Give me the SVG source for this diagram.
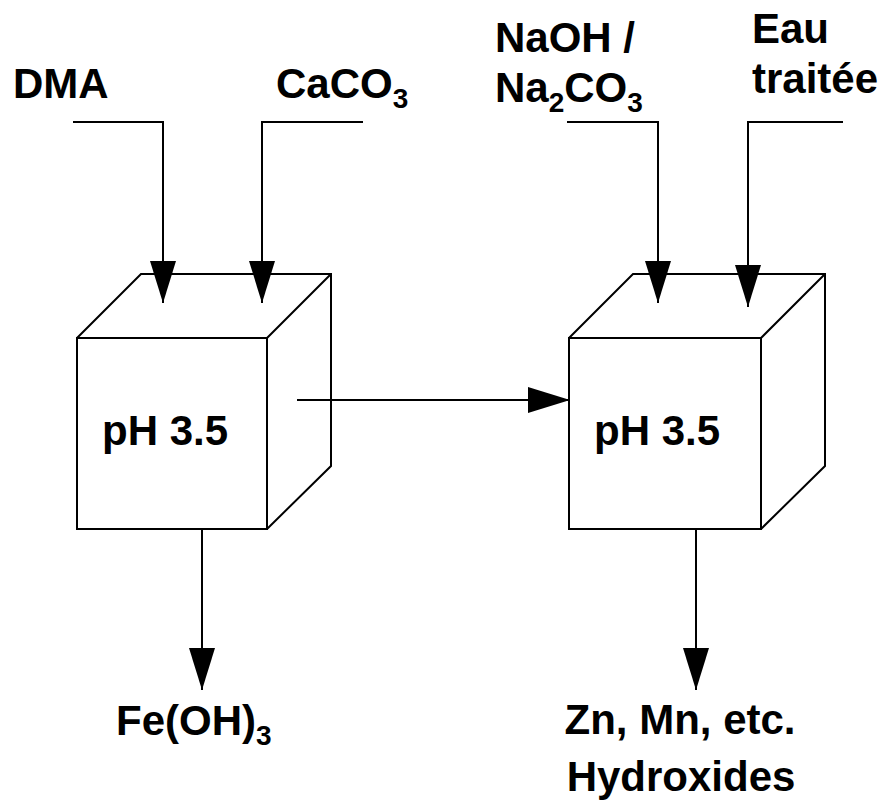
<svg xmlns="http://www.w3.org/2000/svg" width="883" height="803" viewBox="0 0 883 803">
<style>
.ln{fill:none;stroke:#000;stroke-width:2;stroke-linejoin:miter}
.t{font-family:"Liberation Sans",Arial,sans-serif;font-weight:bold;font-size:42px;fill:#000}
.s{font-size:28px}
</style>
<defs>
<marker id="ah" markerUnits="userSpaceOnUse" markerWidth="42" markerHeight="26" refX="42" refY="13" orient="auto">
<path d="M0,0 L42,13 L0,26 Z" fill="#000"/>
</marker>
</defs>
<rect width="883" height="803" fill="#fff"/>
<g id="tank1">
<path class="ln" d="M77,529 V338 H267 V529 H77 Z M77,338 L141,274 H331 V466 L267,529 M267,338 L331,274"/>
<text class="t" x="102" y="445">pH 3.5</text>
</g>
<g id="tank2">
<path class="ln" d="M569,529 V338 H761 V529 H569 Z M569,338 L633,274 H825 V466 L761,529 M761,338 L825,274"/>
<text class="t" x="594" y="445">pH 3.5</text>
</g>
<g id="labels">
<text id="dma" class="t" x="13" y="98">DMA</text>
<text id="caco3" class="t" x="276" y="98">CaCO<tspan class="s" dy="10">3</tspan></text>
<text id="naoh" class="t" x="495" y="52">NaOH /</text>
<text id="na2co3" class="t" x="495" y="102">Na<tspan class="s" dy="10">2</tspan><tspan dy="-10">CO</tspan><tspan class="s" dy="10">3</tspan></text>
<text id="eau" class="t" x="752" y="43">Eau</text>
<text id="traitee" class="t" x="752" y="93">traitée</text>
<text id="feoh3" class="t" x="116" y="735">Fe(OH)<tspan class="s" dy="10">3</tspan></text>
<text id="zn" class="t" x="680" y="734" text-anchor="middle">Zn, Mn, etc.</text>
<text id="hydroxides" class="t" x="681" y="791" text-anchor="middle">Hydroxides</text>
</g>
<g id="connectors">
<path class="ln" d="M73,122 H163 V303" marker-end="url(#ah)"/>
<path class="ln" d="M363,122 H262 V303" marker-end="url(#ah)"/>
<path class="ln" d="M567,122 H658 V303" marker-end="url(#ah)"/>
<path class="ln" d="M843,122 H748 V307" marker-end="url(#ah)"/>
<path class="ln" d="M297,400 H570" marker-end="url(#ah)"/>
<path class="ln" d="M202,528 V690" marker-end="url(#ah)"/>
<path class="ln" d="M696,528 V690" marker-end="url(#ah)"/>
</g>
</svg>
